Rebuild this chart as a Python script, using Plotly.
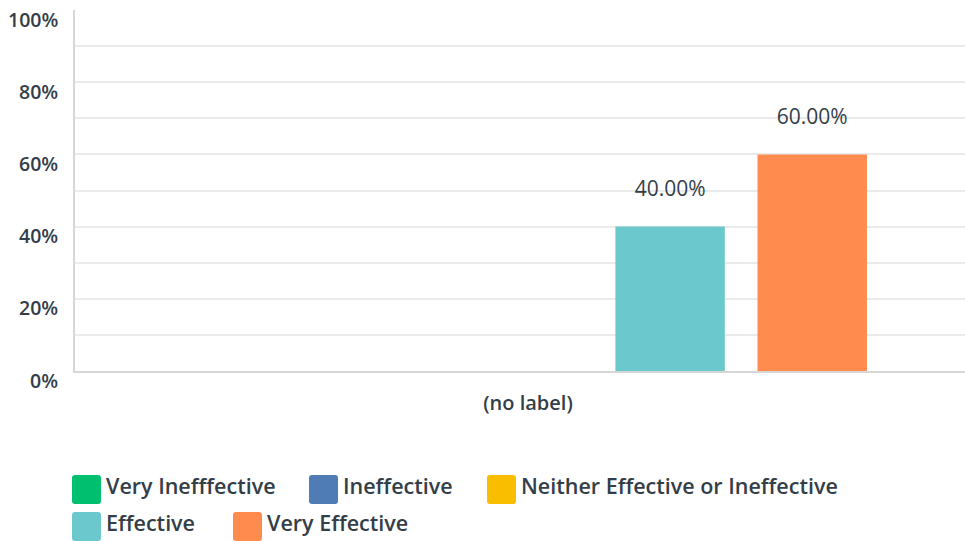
import plotly.graph_objects as go

categories = ["(no label)"]
series_names = ["Very Inefffective", "Ineffective", "Neither Effective or Ineffective",
                "Effective", "Very Effective"]
series_values = [0.0, 0.0, 0.0, 40.0, 60.0]
series_colors = ["#00bf6f", "#507cb6", "#f9be00", "#6bc8cd", "#ff8b4f"]
y_tick_vals = [0, 20, 40, 60, 80, 100]
y_tick_text = ["0%", "20%", "40%", "60%", "80%", "100%"]

TEXT = "#333e48"
FONT = "Open Sans"
W, H = 965, 541
ML, MR, MT, MB = 75, 0, 10, 170

fig = go.Figure()
for name, val, col in zip(series_names, series_values, series_colors):
    fig.add_trace(go.Bar(
        x=categories, y=[val], name=name, marker=dict(color=col, line=dict(width=0)),
        text=[f"{val:.2f}%<br><span style='font-size:1px'> </span>" if val > 0 else ""],
        textposition="outside",
        textfont=dict(family=FONT, size=21, color=TEXT, weight=500),
        cliponaxis=False, showlegend=False, hoverinfo="skip",
    ))

# custom legend (large rounded swatches)
pw, ph = W - ML - MR, H - MT - MB
def px(x):
    return (x - ML) / pw
def py(y):
    return (H - MB - y) / ph

legend_pos = [(72, 475), (309, 475), (487, 475), (72, 512), (233, 512)]  # swatch top-left in px
SW = 29
r = 3
shapes = []
annotations = []
for (lx, ly), name, col in zip(legend_pos, series_names, series_colors):
    x0, x1, y0, y1 = lx, lx + SW, ly, ly + SW
    path = (f"M{px(x0+r)},{py(y0)} L{px(x1-r)},{py(y0)} Q{px(x1)},{py(y0)} {px(x1)},{py(y0+r)} "
            f"L{px(x1)},{py(y1-r)} Q{px(x1)},{py(y1)} {px(x1-r)},{py(y1)} "
            f"L{px(x0+r)},{py(y1)} Q{px(x0)},{py(y1)} {px(x0)},{py(y1-r)} "
            f"L{px(x0)},{py(y0+r)} Q{px(x0)},{py(y0)} {px(x0+r)},{py(y0)} Z")
    shapes.append(dict(type="path", path=path, xref="paper", yref="paper",
                       fillcolor=col, line=dict(width=0), layer="above"))
    annotations.append(dict(text=name, x=px(x1 + 3), y=py(ly + SW / 2 - 4.5), xref="paper", yref="paper",
                            xanchor="left", yanchor="middle", showarrow=False,
                            font=dict(family=FONT, size=21.5, color=TEXT, weight=600)))

# y tick labels drawn slightly below their gridlines, as in the reference
for v, t in zip(y_tick_vals, y_tick_text):
    annotations.append(dict(text=t, x=0, y=v, xref="paper", yref="y", xanchor="right",
                            yanchor="middle", xshift=-15, yshift=-9, showarrow=False,
                            font=dict(family=FONT, size=19.5, color=TEXT, weight=600)))

fig.update_layout(
    width=W, height=H,
    margin=dict(l=ML, r=MR, t=MT, b=MB, pad=0),
    paper_bgcolor="white", plot_bgcolor="white",
    barmode="group", bargap=0.2, bargroupgap=0.23,
    shapes=shapes, annotations=annotations,
    font=dict(family=FONT, color=TEXT),
    xaxis=dict(range=[-0.51, 0.492], showline=True, linecolor="#d6d6d6", linewidth=2,
               showgrid=False, ticks="", ticklabelstandoff=13,
               tickfont=dict(family=FONT, size=20, color=TEXT, weight=600)),
    yaxis=dict(range=[0, 100], tickvals=y_tick_vals, showticklabels=False,
               showline=True, linecolor="#d6d6d6", linewidth=2,
               showgrid=True, gridcolor="#ebebeb", gridwidth=1.5, zeroline=False,
               minor=dict(dtick=10, showgrid=True, gridcolor="#ebebeb", gridwidth=1.5),
               ticks=""),
)

fig.write_html("out.html")
